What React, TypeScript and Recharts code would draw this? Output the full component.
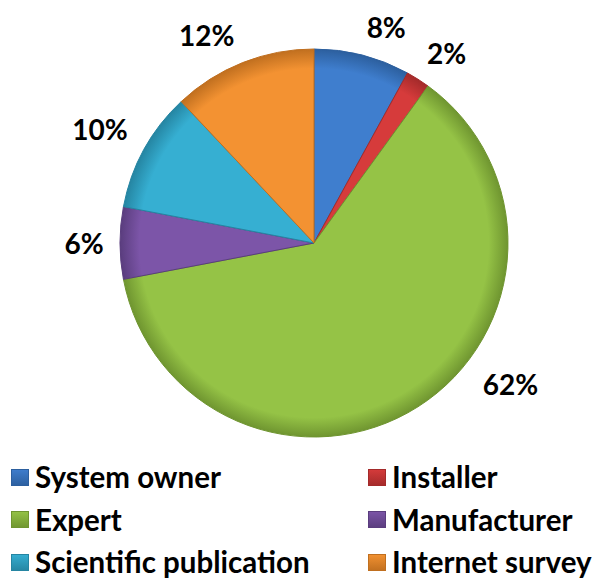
import React from 'react';
import { PieChart, Pie, Cell, Legend } from 'recharts';

const NAMES = ['System owner', 'Installer', 'Expert', 'Manufacturer', 'Scientific publication', 'Internet survey'];
const SHARES = [8, 2, 62, 6, 10, 12];
const COLORS = ['#3f7ece', '#d63b3b', '#95c346', '#7c55a8', '#36afd2', '#f39232'];
const EDGES = ['#2c5f9e', '#a32a2a', '#6f9530', '#5a3d7e', '#2585a2', '#c06f1f'];

const data = NAMES.map((name, i) => ({ name, value: SHARES[i] }));

const FONT = 'Lato, "Open Sans", sans-serif';
const RAD = Math.PI / 180;

// Excel-style outside-end labels: the box corner sits just off the rim
const renderLabel = (p: any) => {
  const span = p.endAngle - p.startAngle;
  const ang = p.percent > 0.5 ? p.startAngle + 0.41 * span : p.midAngle;
  const cos = Math.cos(ang * RAD);
  const sin = Math.sin(ang * RAD);
  const r = p.outerRadius + 16;
  const px = p.cx + r * cos;
  const py = p.cy - r * sin;
  const text = `${p.value}%`;
  const w = text.length * 20;
  const h = 26;
  const sx = cos > 0.05 ? 1 : cos < -0.05 ? -1 : 0;
  const sy = sin > 0.05 ? 1 : sin < -0.05 ? -1 : 0;
  return (
    <text
      x={px + (sx * w) / 2}
      y={py - (sy * h) / 2}
      textAnchor="middle"
      dominantBaseline="central"
      fill="#000"
      style={{ fontFamily: FONT, fontWeight: 700, fontSize: 28 }}
    >
      {text}
    </text>
  );
};

const LegendGrid = (props: any) => {
  const items = [...(props.payload || [])].sort(
    (a: any, b: any) => NAMES.indexOf(a.value) - NAMES.indexOf(b.value)
  );
  return (
    <div
      style={{
        display: 'grid',
        gridTemplateColumns: '357px 229px',
        paddingLeft: 11,
        fontFamily: FONT,
        fontWeight: 700,
        fontSize: 29.5,
        lineHeight: '42.5px',
        color: '#000',
      }}
    >
      {items.map((it: any) => {
        const i = NAMES.indexOf(it.value);
        return (
          <div key={it.value} style={{ display: 'flex', alignItems: 'center', whiteSpace: 'nowrap' }}>
            <span
              style={{
                display: 'inline-block',
                width: 18,
                height: 17,
                marginRight: 6,
                background: `linear-gradient(180deg, ${COLORS[i]} 0%, ${EDGES[i]} 100%)`,
                boxShadow: `inset 0 0 0 1px ${EDGES[i]}`,
              }}
            />
            {it.value}
          </div>
        );
      })}
    </div>
  );
};

export default function App() {
  return (
    <div style={{ position: 'absolute', left: 0, top: 0, width: 597, height: 581, background: '#fff' }}>
      <PieChart width={597} height={581} margin={{ top: 0, right: 0, bottom: 0, left: 0 }}>
        <defs>
          {COLORS.map((c, i) => (
            <radialGradient key={i} id={`g${i}`} cx={314} cy={243} r={194} gradientUnits="userSpaceOnUse">
              <stop offset="0%" stopColor={c} />
              <stop offset="90%" stopColor={c} />
              <stop offset="100%" stopColor={EDGES[i]} />
            </radialGradient>
          ))}
        </defs>
        <Pie
          data={data}
          dataKey="value"
          nameKey="name"
          cx={314}
          cy={243}
          outerRadius={194}
          startAngle={90}
          endAngle={-270}
          label={renderLabel}
          labelLine={false}
          isAnimationActive={false}
        >
          {data.map((d, i) => (
            <Cell key={d.name} fill={`url(#g${i})`} stroke={EDGES[i]} strokeWidth={1} />
          ))}
        </Pie>
        <Legend
          content={<LegendGrid />}
          wrapperStyle={{ position: 'absolute', top: 456, left: 0, width: 597, height: 125 }}
        />
      </PieChart>
    </div>
  );
}
